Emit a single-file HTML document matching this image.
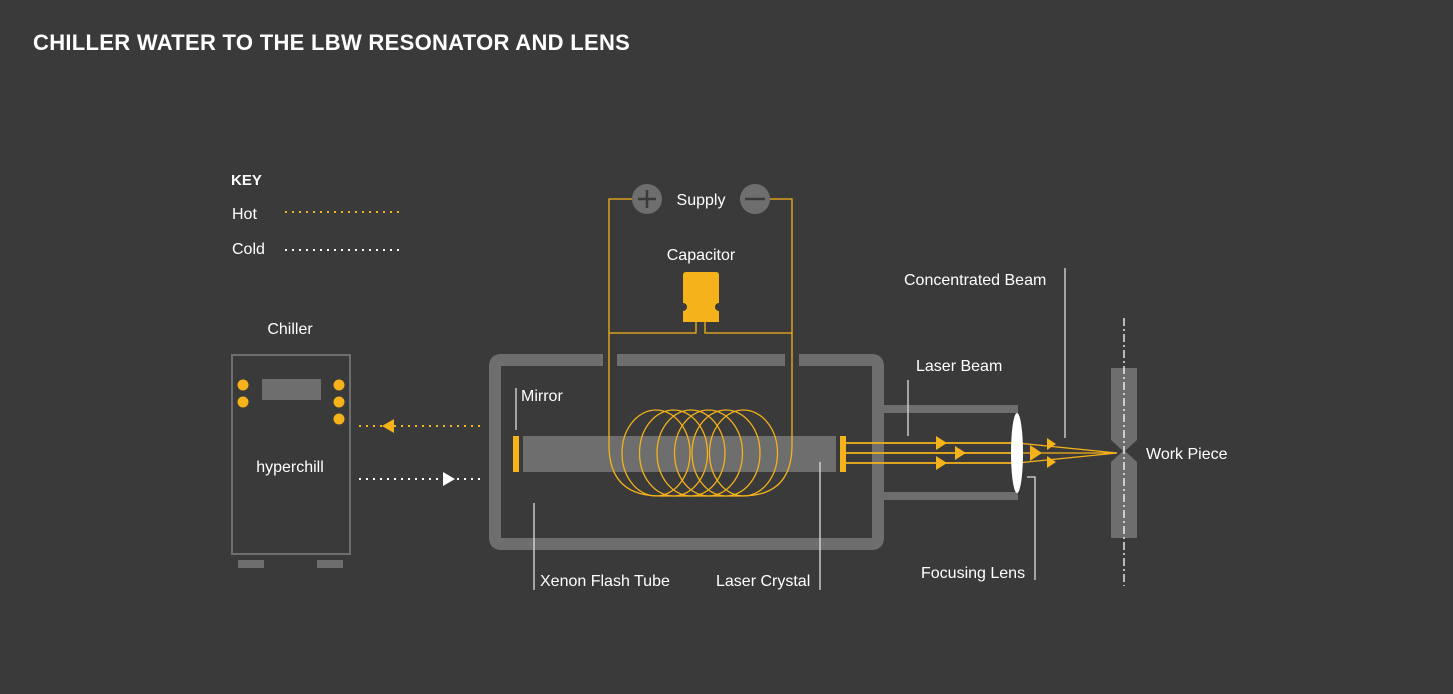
<!DOCTYPE html>
<html><head><meta charset="utf-8"><style>
html,body{margin:0;padding:0;background:#3a3a3a;}
svg{display:block;font-family:"Liberation Sans",sans-serif;}
</style></head><body>
<svg width="1453" height="694" viewBox="0 0 1453 694" xmlns="http://www.w3.org/2000/svg">
<rect width="1453" height="694" fill="#3a3a3a"/>
<text x="33" y="50" fill="#fff" font-size="22" font-weight="bold" letter-spacing="0.3">CHILLER WATER TO THE LBW RESONATOR AND LENS</text>

<!-- Key -->
<text x="231" y="185" fill="#fff" font-size="15" font-weight="bold">KEY</text>
<text x="232" y="219" fill="#fff" font-size="16">Hot</text>
<text x="232" y="254" fill="#fff" font-size="16">Cold</text>
<line x1="285" y1="212" x2="400" y2="212" stroke="#f5b21a" stroke-width="2" stroke-dasharray="2,5"/>
<line x1="285" y1="250" x2="400" y2="250" stroke="#fff" stroke-width="2" stroke-dasharray="2,5"/>

<!-- Chiller -->
<text x="290" y="334" fill="#fff" font-size="16" text-anchor="middle">Chiller</text>
<rect x="232" y="355" width="118" height="199" fill="none" stroke="#6e6e6e" stroke-width="2"/>
<rect x="262" y="379" width="59" height="21" fill="#6e6e6e"/>
<g fill="#f5b21a">
<circle cx="243" cy="385" r="5.5"/><circle cx="243" cy="402" r="5.5"/>
<circle cx="339" cy="385" r="5.5"/><circle cx="339" cy="402" r="5.5"/><circle cx="339" cy="419" r="5.5"/>
</g>
<text x="290" y="472" fill="#fff" font-size="16" text-anchor="middle">hyperchill</text>
<rect x="238" y="560" width="26" height="8" fill="#6e6e6e"/>
<rect x="317" y="560" width="26" height="8" fill="#6e6e6e"/>

<line x1="359" y1="426" x2="480" y2="426" stroke="#f5b21a" stroke-width="2" stroke-dasharray="2,5"/>
<polygon points="382,426 394,419 394,433" fill="#f5b21a"/>
<line x1="359" y1="479" x2="480" y2="479" stroke="#fff" stroke-width="2" stroke-dasharray="2,5"/>
<polygon points="455,479 443,472 443,486" fill="#fff"/>

<!-- Resonator box -->
<g fill="none" stroke="#6e6e6e" stroke-width="12">
<path d="M603,360 H501 Q495,360 495,366 V538 Q495,544 501,544 H872 Q878,544 878,538 V366 Q878,360 872,360 H799"/>
<line x1="617" y1="360" x2="785" y2="360"/>
</g>
<rect x="884" y="405" width="134" height="8" fill="#6e6e6e"/>
<rect x="884" y="492" width="134" height="8" fill="#6e6e6e"/>

<!-- crystal -->
<rect x="523" y="436" width="313" height="36" fill="#6e6e6e"/>
<rect x="513" y="436" width="6" height="36" fill="#f5b21a"/>
<rect x="840" y="436" width="6" height="36" fill="#f5b21a"/>

<!-- coils -->
<g fill="none" stroke="#f5b21a" stroke-width="1.3">
<ellipse cx="656" cy="453" rx="34" ry="43"/>
<ellipse cx="673.5" cy="453" rx="34" ry="43"/>
<ellipse cx="691" cy="453" rx="34" ry="43"/>
<ellipse cx="708.5" cy="453" rx="34" ry="43"/>
<ellipse cx="726" cy="453" rx="34" ry="43"/>
<ellipse cx="743.5" cy="453" rx="34" ry="43"/>
<path d="M632,199 H609 V445 Q609,496 660,496 H742 Q792,496 792,445 V199 H770"/>
<path d="M609,333 H696 V322"/>
<path d="M792,333 H705 V322"/>
</g>
<!-- supply -->
<circle cx="647" cy="199" r="15" fill="#6e6e6e"/>
<circle cx="755" cy="199" r="15" fill="#6e6e6e"/>
<g stroke="#3a3a3a" stroke-width="2.5">
<line x1="638" y1="199" x2="656" y2="199"/><line x1="647" y1="190" x2="647" y2="208"/>
<line x1="745" y1="199" x2="765" y2="199"/>
</g>
<text x="701" y="205" fill="#fff" font-size="16" text-anchor="middle">Supply</text>
<text x="701" y="260" fill="#fff" font-size="16" text-anchor="middle">Capacitor</text>
<path d="M686,272 H716 Q719,272 719,275 V303 A4,4 0 0 0 719,311 V322 H683 V311 A4,4 0 0 0 683,303 V275 Q683,272 686,272 Z" fill="#f5b21a"/>

<!-- beams -->
<g stroke="#f5b21a" stroke-width="1.8" fill="none">
<line x1="846" y1="443" x2="1012" y2="443"/>
<line x1="846" y1="453" x2="1012" y2="453"/>
<line x1="846" y1="463" x2="1012" y2="463"/>
<line x1="1017" y1="443" x2="1117" y2="453" stroke-width="1.3"/>
<line x1="1017" y1="453" x2="1117" y2="453" stroke-width="1.3"/>
<line x1="1017" y1="463" x2="1117" y2="453" stroke-width="1.3"/>
</g>
<g fill="#f5b21a">
<polygon points="947,443 936,436 936,450"/>
<polygon points="947,463 936,456 936,470"/>
<polygon points="966,453 955,446 955,460"/>
<polygon points="1042,453 1030,445 1030,461"/>
<polygon points="1056,444 1047,438 1047,450"/>
<polygon points="1056,462 1047,456 1047,468"/>
</g>
<ellipse cx="1017" cy="453" rx="6" ry="40" fill="#fff"/>

<!-- workpiece -->
<rect x="1111" y="368" width="26" height="72" fill="#6e6e6e"/>
<rect x="1111" y="466" width="26" height="72" fill="#6e6e6e"/>
<polygon points="1111,440 1137,440 1125,451 1137,462 1137,466 1111,466 1111,462 1123,451 1111,440" fill="#6e6e6e"/>
<line x1="1124" y1="318" x2="1124" y2="586" stroke="#fff" stroke-width="1.3" stroke-dasharray="8,3,2,3"/>

<!-- leader lines -->
<g stroke="#ddd" stroke-width="1.3" fill="none">
<line x1="516" y1="388" x2="516" y2="430"/>
<line x1="534" y1="503" x2="534" y2="590"/>
<line x1="820" y1="462" x2="820" y2="590"/>
<line x1="908" y1="380" x2="908" y2="436"/>
<line x1="1065" y1="268" x2="1065" y2="438"/>
<path d="M1027,477 H1035 V580"/>
</g>

<g fill="#fff" font-size="16">
<text x="521" y="401">Mirror</text>
<text x="540" y="586">Xenon Flash Tube</text>
<text x="716" y="586">Laser Crystal</text>
<text x="916" y="371">Laser Beam</text>
<text x="904" y="285">Concentrated Beam</text>
<text x="921" y="578">Focusing Lens</text>
<text x="1146" y="459">Work Piece</text>
</g>
</svg>
</body></html>
